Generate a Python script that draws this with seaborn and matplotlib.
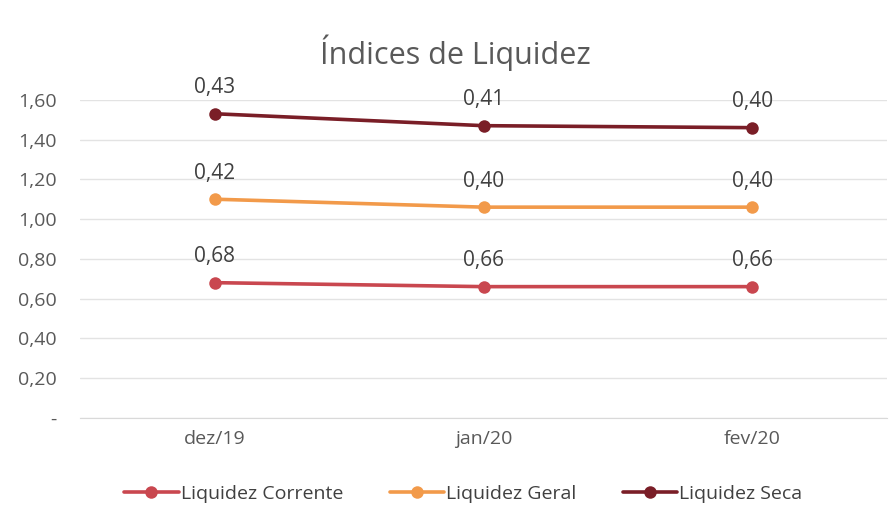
import numpy as np
import pandas as pd
import matplotlib
matplotlib.use("Agg")
import matplotlib.pyplot as plt
import seaborn as sns

# data (stacked line chart: labels show own values)
meses = ["dez/19", "jan/20", "fev/20"]
corrente = [0.68, 0.66, 0.66]
geral = [0.42, 0.40, 0.40]
seca = [0.43, 0.41, 0.40]
series_names = ["Liquidez Corrente", "Liquidez Geral", "Liquidez Seca"]
y_ticks = [0.0, 0.2, 0.4, 0.6, 0.8, 1.0, 1.2, 1.4, 1.6]
y_tick_labels = ["-", "0,20", "0,40", "0,60", "0,80", "1,00", "1,20", "1,40", "1,60"]

colors = ["#C9474F", "#F29A4A", "#7A1E27"]

sns.set_style("white")
plt.rcParams["font.family"] = ["Open Sans", "DejaVu Sans"]

own = np.array([corrente, geral, seca])
stacked = np.cumsum(own, axis=0)

rows = []
for s, name in enumerate(series_names):
    for i, m in enumerate(meses):
        rows.append({"mes": m, "serie": name, "valor": stacked[s, i], "proprio": own[s, i]})
df = pd.DataFrame(rows)

fig = plt.figure(figsize=(8.93, 5.12), dpi=100)
ax = fig.add_axes([0.09, 0.184, 0.903, 0.621])

sns.lineplot(data=df, x="mes", y="valor", hue="serie", palette=colors,
             marker="o", markersize=9, markeredgewidth=0, linewidth=2.6,
             ax=ax, sort=False)

for _, r in df.iterrows():
    ax.annotate("{:.2f}".format(r["proprio"]).replace(".", ","),
                (meses.index(r["mes"]), r["valor"]), xytext=(0, 11),
                textcoords="offset points", ha="center", va="bottom",
                fontsize=15, color="#404040")

ax.set_xlim(-0.5, 2.5)
ax.set_ylim(0, 1.6)
ax.set_yticks(y_ticks)
ax.set_yticklabels(y_tick_labels)
ax.yaxis.grid(True, color="#E3E3E3", linewidth=1)
ax.set_axisbelow(True)
for sp in ["top", "right", "left"]:
    ax.spines[sp].set_visible(False)
ax.spines["bottom"].set_color("#D9D9D9")
ax.tick_params(axis="both", length=0, labelsize=14, colors="#595959")
ax.tick_params(axis="y", pad=17)
ax.tick_params(axis="x", pad=9)
ax.set_xlabel("")
ax.set_ylabel("")

fig.text(0.51, 0.897, "Índices de Liquidez", ha="center", va="center",
         fontsize=22, color="#595959")

handles, labels = ax.get_legend_handles_labels()
ax.legend(handles, labels, loc="center", bbox_to_anchor=(0.475, -0.24), ncol=3,
          frameon=False, fontsize=14, handlelength=2.8, columnspacing=2.4,
          handletextpad=0.1, labelcolor="#404040")

plt.savefig("out.png", dpi=100)
